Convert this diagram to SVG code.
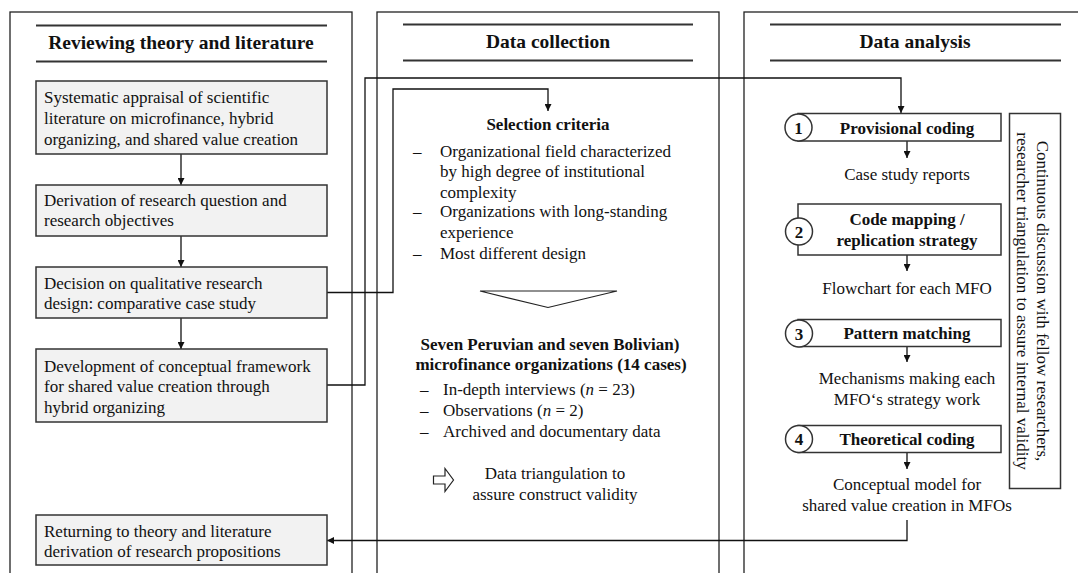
<svg xmlns="http://www.w3.org/2000/svg" width="1078" height="573" viewBox="0 0 1078 573" font-family="'Liberation Serif', 'Times New Roman', Times, 'DejaVu Serif', serif">
<defs>
<marker id="ah" viewBox="0 0 10 10" refX="10" refY="5" markerWidth="7" markerHeight="7" markerUnits="userSpaceOnUse" orient="auto">
<path d="M0,0 L10,5 L0,10 z" fill="#111"/>
</marker>
<style>
text{fill:#111;font-size:17px}
.t{font-size:19.5px;font-weight:bold;text-anchor:middle}
.b{font-weight:bold}
.c{text-anchor:middle}
.panel{fill:none;stroke:#222;stroke-width:1.3}
.hl{stroke:#333;stroke-width:2}
.box{fill:#f2f2f2;stroke:#333;stroke-width:1.5}
.wbox{fill:#fff;stroke:#333;stroke-width:1.5}
.con{fill:none;stroke:#111;stroke-width:1.3}
.arr{fill:none;stroke:#111;stroke-width:1.3;marker-end:url(#ah)}
</style>
</defs>
<rect width="1078" height="573" fill="#fff"/>

<g id="panel-theory">
<rect class="panel" x="10" y="12" width="342" height="600"/>
<line class="hl" x1="36" y1="25.5" x2="327" y2="25.5"/>
<line class="hl" x1="36" y1="61.5" x2="327" y2="61.5"/>
<text class="t" x="181" y="48.5">Reviewing theory and literature</text>
</g>
<g id="panel-collection">
<rect class="panel" x="377" y="12" width="342" height="600"/>
<line class="hl" x1="403" y1="24.5" x2="693" y2="24.5"/>
<line class="hl" x1="403" y1="60.5" x2="693" y2="60.5"/>
<text class="t" x="548" y="47.5">Data collection</text>
</g>
<g id="panel-analysis">
<rect class="panel" x="744" y="12" width="400" height="600"/>
<line class="hl" x1="770" y1="24.5" x2="1061" y2="24.5"/>
<line class="hl" x1="770" y1="60.5" x2="1061" y2="60.5"/>
<text class="t" x="915" y="47.5">Data analysis</text>
</g>

<g id="connectors">
<line class="arr" x1="181" y1="154" x2="181" y2="185"/>
<line class="arr" x1="181" y1="236" x2="181" y2="267"/>
<line class="arr" x1="181" y1="318" x2="181" y2="349"/>
<polyline class="arr" points="327,292.5 393,292.5 393,89 548,89 548,111"/>
<polyline class="arr" points="327,385 365,385 365,78 901,78 901,113"/>
<polyline class="arr" points="907,520 907,540.5 327,540.5"/>
<line class="arr" x1="907" y1="141" x2="907" y2="158"/>
<line class="arr" x1="907" y1="255" x2="907" y2="271"/>
<line class="arr" x1="907" y1="346" x2="907" y2="362"/>
<line class="arr" x1="907" y1="452.5" x2="907" y2="469"/>
</g>

<g id="n-systematic">
<rect class="box" x="36" y="81" width="291" height="73"/>
<text x="44" y="103">Systematic appraisal of scientific</text>
<text x="44" y="124">literature on microfinance, hybrid</text>
<text x="44" y="145">organizing, and shared value creation</text>
</g>
<g id="n-derivation">
<rect class="box" x="36" y="185" width="291" height="51"/>
<text x="44" y="206">Derivation of research question and</text>
<text x="44" y="226">research objectives</text>
</g>
<g id="n-decision">
<rect class="box" x="36" y="267" width="291" height="51"/>
<text x="44" y="289">Decision on qualitative research</text>
<text x="44" y="309">design: comparative case study</text>
</g>
<g id="n-development">
<rect class="box" x="36" y="349" width="291" height="73"/>
<text x="44" y="371.5">Development of conceptual framework</text>
<text x="44" y="392">for shared value creation through</text>
<text x="44" y="413">hybrid organizing</text>
</g>
<g id="n-returning">
<rect class="box" x="36" y="515" width="291" height="50"/>
<text x="44" y="536.5">Returning to theory and literature</text>
<text x="44" y="556.5">derivation of research propositions</text>
</g>

<g id="n-selection">
<text class="b c" x="548" y="130">Selection criteria</text>
<text x="413" y="156.5">–</text><text x="440" y="156.5">Organizational field characterized</text>
<text x="440" y="177">by high degree of institutional</text>
<text x="440" y="197.5">complexity</text>
<text x="413" y="217">–</text><text x="440" y="217">Organizations with long-standing</text>
<text x="440" y="238">experience</text>
<text x="413" y="259">–</text><text x="440" y="259">Most different design</text>
</g>
<g id="n-chevron">
<polygon points="480,291 617,291 548,307.5" fill="#fff" stroke="#222" stroke-width="1.2"/>
</g>
<g id="n-cases">
<text class="b c" x="550" y="349.5">Seven Peruvian and seven Bolivian)</text>
<text class="b c" x="551" y="370">microfinance organizations (14 cases)</text>
<text x="420" y="395">–</text><text x="443" y="395">In-depth interviews (<tspan font-style="italic">n</tspan> = 23)</text>
<text x="420" y="416">–</text><text x="443" y="416">Observations (<tspan font-style="italic">n</tspan> = 2)</text>
<text x="420" y="436.5">–</text><text x="443" y="436.5">Archived and documentary data</text>
</g>
<g id="n-triangulation">
<polygon points="433.5,476 445,476 445,468.5 453.5,480 445,491.5 445,484 433.5,484" fill="#fff" stroke="#222" stroke-width="1.2"/>
<text class="c" x="555" y="479">Data triangulation to</text>
<text class="c" x="555" y="500">assure construct validity</text>
</g>

<g id="n-step1">
<rect class="wbox" x="798" y="113.5" width="203" height="27.5"/>
<circle class="wbox" cx="798.5" cy="127.5" r="13.5"/>
<text class="b c" x="798.5" y="133.5">1</text>
<text class="b c" x="907" y="133.5">Provisional coding</text>
</g>
<g id="n-reports"><text class="c" x="907" y="180">Case study reports</text></g>
<g id="n-step2">
<rect class="wbox" x="798" y="204" width="203" height="51"/>
<circle class="wbox" cx="799" cy="231.5" r="13.5"/>
<text class="b c" x="799" y="237.5">2</text>
<text class="b c" x="907" y="225">Code mapping /</text>
<text class="b c" x="907" y="245.5">replication strategy</text>
</g>
<g id="n-flowchart"><text class="c" x="907" y="293.5">Flowchart for each MFO</text></g>
<g id="n-step3">
<rect class="wbox" x="798" y="319.5" width="203" height="27"/>
<circle class="wbox" cx="799" cy="333.5" r="13.5"/>
<text class="b c" x="799" y="339.5">3</text>
<text class="b c" x="907" y="339">Pattern matching</text>
</g>
<g id="n-mechanisms">
<text class="c" x="907" y="383.5">Mechanisms making each</text>
<text class="c" x="907" y="405">MFO‘s strategy work</text>
</g>
<g id="n-step4">
<rect class="wbox" x="798" y="425.5" width="203" height="27"/>
<circle class="wbox" cx="799" cy="439" r="13.5"/>
<text class="b c" x="799" y="445">4</text>
<text class="b c" x="907" y="445">Theoretical coding</text>
</g>
<g id="n-model">
<text class="c" x="907" y="490">Conceptual model for</text>
<text class="c" x="907" y="510.5">shared value creation in MFOs</text>
</g>
<g id="n-validity">
<rect class="wbox" x="1009.5" y="113.5" width="51" height="375"/>
<text class="c" transform="translate(1037,301) rotate(90)">Continuous discussion with fellow researchers,</text>
<text class="c" transform="translate(1017,301) rotate(90)">researcher triangulation to assure internal validity</text>
</g>
</svg>
